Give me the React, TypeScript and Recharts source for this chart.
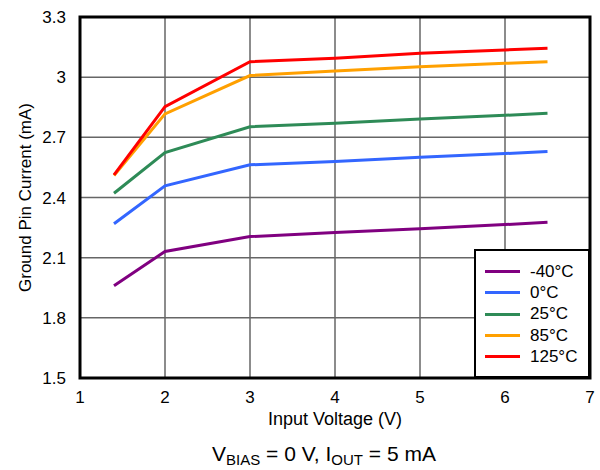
import React from 'react'
import {
  LineChart,
  Line,
  XAxis,
  YAxis,
  CartesianGrid,
  Legend,
  ReferenceArea,
} from 'recharts'

// input voltage (V)
const vin = [1.4, 2, 3, 4, 5, 6, 6.5]

// ground pin current (mA) per temperature
const tMinus40 = [1.96, 2.131, 2.205, 2.225, 2.244, 2.265, 2.277]
const t0 = [2.269, 2.458, 2.563, 2.579, 2.601, 2.619, 2.629]
const t25 = [2.421, 2.624, 2.753, 2.77, 2.792, 2.81, 2.82]
const t85 = [2.51, 2.817, 3.008, 3.031, 3.052, 3.069, 3.077]
const t125 = [2.513, 2.853, 3.077, 3.094, 3.119, 3.136, 3.144]

const xTicks = [1, 2, 3, 4, 5, 6, 7]
const yTicks = [1.5, 1.8, 2.1, 2.4, 2.7, 3, 3.3]

const series = [
  { key: 'm40', name: '-40°C', color: '#800080', values: tMinus40 },
  { key: 't0', name: '0°C', color: '#3366ff', values: t0 },
  { key: 't25', name: '25°C', color: '#2e8b57', values: t25 },
  { key: 't85', name: '85°C', color: '#ffa000', values: t85 },
  { key: 't125', name: '125°C', color: '#ff0000', values: t125 },
]

const data = vin.map((v, i) => {
  const row: Record<string, number> = { vin: v }
  series.forEach((s) => {
    row[s.key] = s.values[i]
  })
  return row
})

const FONT = '"Liberation Sans", Arial, Helvetica, sans-serif'

function LegendBox() {
  return (
    <div
      style={{
        border: '2px solid #000',
        background: '#fff',
        boxSizing: 'border-box',
        width: 116,
        height: 129,
        padding: '10px 0 0 9px',
        fontFamily: FONT,
        fontSize: 17,
        color: '#000',
      }}
    >
      {series.map((s) => (
        <div key={s.key} style={{ display: 'flex', alignItems: 'center', height: 21.3 }}>
          <span style={{ display: 'inline-block', width: 35, height: 3, background: s.color, marginRight: 10 }} />
          <span>{s.name}</span>
        </div>
      ))}
    </div>
  )
}

export default function App() {
  return (
    <div style={{ position: 'absolute', left: 0, top: 0, width: 600, height: 470, background: '#fff', fontFamily: FONT }}>
      <LineChart width={600} height={470} data={data} margin={{ top: 17, right: 10, left: 0, bottom: 40 }}>
        <CartesianGrid stroke="#666" strokeWidth={1.5} />
        <XAxis
          dataKey="vin"
          type="number"
          domain={[1, 7]}
          ticks={xTicks}
          height={52}
          tickLine={false}
          axisLine={false}
          tickSize={0}
          tickMargin={13}
          tick={{ fill: '#000', fontSize: 17, fontFamily: FONT }}
          label={{ value: 'Input Voltage (V)', position: 'insideBottom', offset: 5, fill: '#000', fontSize: 18, fontFamily: FONT }}
        />
        <YAxis
          type="number"
          domain={[1.5, 3.3]}
          ticks={yTicks}
          width={80}
          tickLine={false}
          axisLine={false}
          tickSize={0}
          tickMargin={14}
          tickFormatter={(v: number) => String(Number(v.toFixed(1)))}
          tick={{ fill: '#000', fontSize: 17, fontFamily: FONT }}
          label={{ value: 'Ground Pin Current (mA)', angle: -90, position: 'insideLeft', offset: 25, style: { textAnchor: 'middle' }, fill: '#000', fontSize: 17, fontFamily: FONT }}
        />
        <ReferenceArea x1={1} x2={7} y1={1.5} y2={3.3} fill="none" stroke="#000" strokeWidth={3} fillOpacity={0} />
        {series.map((s) => (
          <Line
            key={s.key}
            dataKey={s.key}
            name={s.name}
            stroke={s.color}
            strokeWidth={3}
            dot={false}
            activeDot={false}
            isAnimationActive={false}
          />
        ))}
        <Legend
          layout="vertical"
          align="center"
          verticalAlign="middle"
          content={() => <LegendBox />}
          wrapperStyle={{ left: 474, top: 249, width: 116, height: 129 }}
        />
      </LineChart>
      <div
        style={{
          position: 'absolute',
          left: 0,
          width: 648,
          top: 442,
          textAlign: 'center',
          fontSize: 21,
          color: '#000',
          whiteSpace: 'nowrap',
        }}
      >
        V<sub style={{ fontSize: 15, verticalAlign: -4 }}>BIAS</sub> = 0 V, I<sub style={{ fontSize: 15, verticalAlign: -4 }}>OUT</sub> = 5 mA
      </div>
    </div>
  )
}
